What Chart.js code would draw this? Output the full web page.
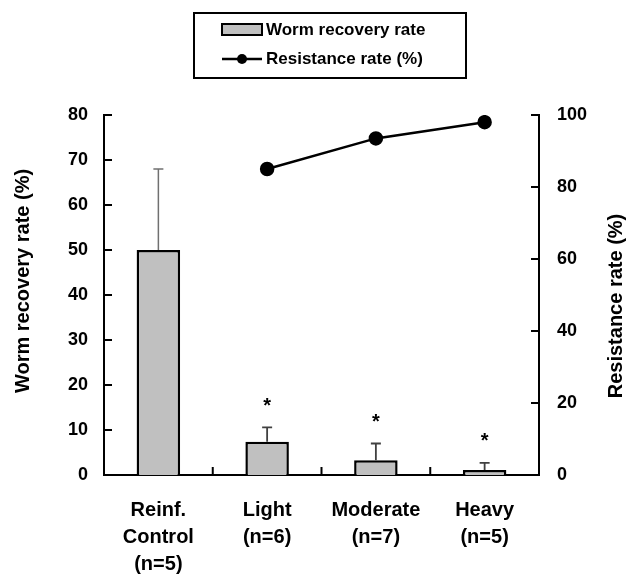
<!DOCTYPE html>
<html>
<head>
<meta charset="utf-8">
<script src="https://cdn.jsdelivr.net/npm/chart.js@4.4.1/dist/chart.umd.min.js"></script>
<style>
  html, body { margin: 0; padding: 0; background: #fff; }
  #wrap { position: relative; width: 627px; height: 577px; }
</style>
</head>
<body>
<div id="wrap"><canvas id="grafico"></canvas></div>
<script>
// dados
const categorias = [['Reinf.', 'Control', '(n=5)'], ['Light', '(n=6)'], ['Moderate', '(n=7)'], ['Heavy', '(n=5)']];
const recuperacao = [50, 7.4, 3.3, 1.1];
const erroRecuperacao = [18, 3.2, 3.7, 1.6];
const resistencia = [null, 85, 93.5, 98];
const significancia = ['', '*', '*', '*'];
const ticksEsquerda = [0, 10, 20, 30, 40, 50, 60, 70, 80];
const ticksDireita = [0, 20, 40, 60, 80, 100];

const fonte = '"Liberation Sans", Arial, sans-serif';

const extras = {
  id: 'extras',
  afterDatasetsDraw(chart) {
    const ctx = chart.ctx;
    const x = chart.scales.x;
    const y = chart.scales.y;
    ctx.save();
    // barras de erro
    recuperacao.forEach((v, i) => {
      const px = x.getPixelForValue(i);
      const y0 = y.getPixelForValue(v);
      const y1 = y.getPixelForValue(v + erroRecuperacao[i]);
      ctx.strokeStyle = i === 0 ? '#707070' : '#404040';
      ctx.lineWidth = i === 0 ? 1.5 : 1.8;
      ctx.beginPath();
      ctx.moveTo(px, y0);
      ctx.lineTo(px, y1);
      ctx.moveTo(px - 5, y1);
      ctx.lineTo(px + 5, y1);
      ctx.stroke();
      if (significancia[i]) {
        ctx.fillStyle = '#000';
        ctx.font = 'bold 20px ' + fonte;
        ctx.textAlign = 'center';
        ctx.textBaseline = 'middle';
        ctx.fillText(significancia[i], px, y1 - 21);
      }
    });
    ctx.restore();
  },
  afterDraw(chart) {
    const ctx = chart.ctx;
    const a = chart.chartArea;
    const x = chart.scales.x;
    ctx.save();
    ctx.strokeStyle = '#000';
    ctx.lineWidth = 2;
    // marcas para dentro
    ctx.beginPath();
    ticksEsquerda.forEach(t => {
      const py = chart.scales.y.getPixelForValue(t);
      ctx.moveTo(a.left, py); ctx.lineTo(a.left + 8, py);
    });
    ticksDireita.forEach(t => {
      const py = chart.scales.y2.getPixelForValue(t);
      ctx.moveTo(a.right, py); ctx.lineTo(a.right - 8, py);
    });
    for (let i = 0; i < categorias.length - 1; i++) {
      const px = (x.getPixelForValue(i) + x.getPixelForValue(i + 1)) / 2;
      ctx.moveTo(px, a.bottom); ctx.lineTo(px, a.bottom - 8);
    }
    ctx.stroke();

    // títulos dos eixos
    ctx.fillStyle = '#000';
    ctx.font = 'bold 20px ' + fonte;
    ctx.textAlign = 'center';
    ctx.textBaseline = 'middle';
    ctx.save();
    ctx.translate(23, 281);
    ctx.rotate(-Math.PI / 2);
    ctx.fillText('Worm recovery rate (%)', 0, 0);
    ctx.restore();
    ctx.save();
    ctx.translate(616, 306);
    ctx.rotate(-Math.PI / 2);
    ctx.fillText('Resistance rate (%)', 0, 0);
    ctx.restore();

    // legenda
    const ds = chart.data.datasets;
    ctx.lineWidth = 2;
    ctx.strokeRect(194, 13, 272, 65);
    ctx.fillStyle = '#c0c0c0';
    ctx.fillRect(222, 24, 40, 11);
    ctx.strokeRect(222, 24, 40, 11);
    ctx.lineWidth = 2.5;
    ctx.beginPath();
    ctx.moveTo(222, 59); ctx.lineTo(262, 59);
    ctx.stroke();
    ctx.fillStyle = '#000';
    ctx.beginPath();
    ctx.arc(242, 59, 5, 0, Math.PI * 2);
    ctx.fill();
    ctx.font = 'bold 17px ' + fonte;
    ctx.textAlign = 'left';
    ctx.fillText(ds[1].label, 266, 30);
    ctx.fillText(ds[0].label, 266, 59);
    ctx.restore();
  }
};

new Chart(document.getElementById('grafico'), {
  type: 'bar',
  data: {
    labels: categorias,
    datasets: [{
      type: 'line',
      label: 'Resistance rate (%)',
      data: resistencia,
      yAxisID: 'y2',
      borderColor: '#000',
      backgroundColor: '#000',
      borderWidth: 2.5,
      pointRadius: 6,
      pointBackgroundColor: '#000',
      order: 0
    }, {
      label: 'Worm recovery rate',
      data: recuperacao,
      yAxisID: 'y',
      backgroundColor: '#c0c0c0',
      borderColor: '#000',
      borderWidth: 2.5,
      barPercentage: 0.4,
      categoryPercentage: 1,
      order: 1
    }]
  },
  options: {
    responsive: true,
    maintainAspectRatio: false,
    animation: false,
    layout: { padding: { top: 115, left: 0, right: 0, bottom: 0 } },
    plugins: {
      legend: { display: false },
      tooltip: { enabled: false }
    },
    scales: {
      x: {
        grid: { display: false, drawTicks: false },
        border: { display: true, color: '#000', width: 2 },
        ticks: {
          color: '#000',
          padding: 22,
          maxRotation: 0,
          font: { family: fonte, size: 20, weight: 'bold', lineHeight: 1.35 }
        },
        afterFit(s) { s.height = 102; }
      },
      y: {
        position: 'left',
        min: 0, max: 80,
        grid: { display: false, drawTicks: false },
        border: { display: true, color: '#000', width: 2 },
        ticks: {
          stepSize: 10, color: '#000', padding: 16,
          font: { family: fonte, size: 18, weight: 'bold' }
        },
        afterFit(s) { s.width = 104; }
      },
      y2: {
        position: 'right',
        min: 0, max: 100,
        grid: { display: false, drawTicks: false },
        border: { display: true, color: '#000', width: 2 },
        ticks: {
          stepSize: 20, color: '#000', padding: 18,
          font: { family: fonte, size: 18, weight: 'bold' }
        },
        afterFit(s) { s.width = 88; }
      }
    }
  },
  plugins: [extras]
});
</script>
</body>
</html>
